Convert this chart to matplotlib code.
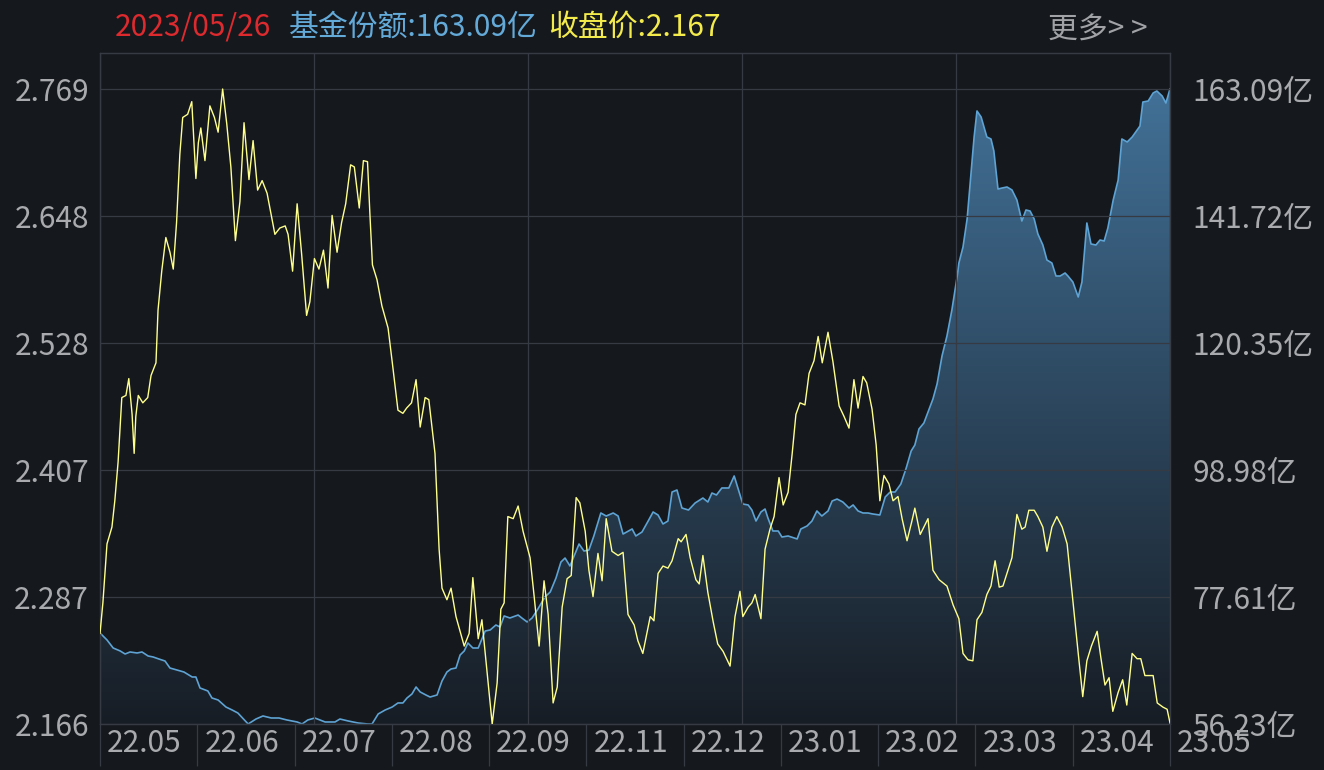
import numpy as np
import matplotlib
matplotlib.use("Agg")
import matplotlib.pyplot as plt
from matplotlib.colors import LinearSegmentedColormap
from matplotlib.transforms import blended_transform_factory

plt.rcParams["font.family"] = ["Noto Sans CJK SC", "DejaVu Sans"]

# closing price (left axis), positions along the trading timeline 0..260
price_t = [0, 0.7, 1.7, 2.9, 3.6, 4.4, 5.3, 6.3, 7.0, 7.8,
           8.3, 8.7, 9.3, 10.4, 11.6, 12.4, 13.6, 14.1, 15.0, 16.0,
           17.0, 17.8, 18.6, 19.4, 20.1, 21.3, 22.3, 23.3, 23.9, 24.5,
           25.5, 26.7, 27.8, 28.7, 29.8, 30.8, 31.8, 32.9, 34.0, 35.0,
           36.2, 37.2, 38.3, 39.4, 40.6, 42.5, 43.7, 45.0, 45.7, 46.8,
           47.9, 49.0, 50.2, 51.0, 52.1, 53.2, 54.3, 55.4, 56.4, 57.6,
           58.7, 59.7, 60.9, 61.8, 63.0, 64.0, 65.0, 65.6, 66.2, 67.3,
           68.5, 70.0, 71.0, 72.4, 73.6, 74.5, 75.7, 76.8, 77.8, 79.0,
           79.9, 81.4, 82.4, 83.1, 84.3, 85.3, 86.5, 88.5, 89.7, 90.6,
           91.9, 92.8, 94.0, 95.3, 96.5, 97.4, 98.2, 99.1, 100.4, 101.6,
           102.8, 104.5, 105.5, 106.7, 107.9, 108.9, 110.1, 111.1, 112.3, 113.5,
           114.5, 115.7, 116.6, 117.9, 118.8, 119.8, 121.0, 122.0, 123.0, 124.4,
           125.9, 127.1, 128.3, 129.8, 130.7, 131.9, 133.7, 134.6, 135.6, 136.8,
           138.0, 139.0, 140.5, 141.2, 142.4, 143.4, 144.8, 145.6, 146.5, 147.7,
           149.0, 150.1, 151.4, 153.1, 154.3, 155.5, 156.2, 157.5, 158.4, 159.2,
           160.6, 161.6, 162.8, 163.8, 165.0, 166.0, 167.2, 168.2, 169.1, 170.1,
           171.3, 172.3, 173.5, 174.5, 175.5, 176.9, 178.1, 179.6, 180.8, 182.0,
           183.2, 184.2, 185.4, 186.3, 187.6, 188.6, 189.5, 190.5, 191.7, 192.7,
           193.9, 194.9, 196.1, 197.3, 198.0, 199.3, 201.2, 202.4, 203.9, 205.8,
           207.3, 208.7, 209.7, 210.9, 212.1, 213.1, 214.3, 215.5, 216.5, 217.5,
           218.5, 219.4, 221.6, 222.8, 224.0, 224.8, 225.7, 227.0, 227.9, 229.1,
           230.1, 231.3, 232.5, 233.8, 235.0, 236.4, 237.7, 238.8, 239.8, 240.9,
           242.3, 243.2, 244.2, 245.2, 246.1, 247.4, 248.5, 249.5, 250.8, 252.0,
           252.9, 253.9, 255.9, 256.9, 258.3, 259.3, 260.0]
price = [2.252, 2.281, 2.337, 2.353, 2.378, 2.415, 2.476, 2.478, 2.494, 2.460,
         2.423, 2.458, 2.478, 2.471, 2.476, 2.497, 2.509, 2.559, 2.596, 2.628,
         2.614, 2.598, 2.642, 2.707, 2.742, 2.745, 2.757, 2.684, 2.718, 2.732,
         2.701, 2.753, 2.742, 2.728, 2.769, 2.736, 2.695, 2.625, 2.662, 2.737,
         2.683, 2.720, 2.673, 2.682, 2.670, 2.631, 2.637, 2.639, 2.631, 2.596,
         2.660, 2.612, 2.554, 2.567, 2.608, 2.598, 2.616, 2.580, 2.649, 2.614,
         2.642, 2.660, 2.697, 2.695, 2.656, 2.701, 2.700, 2.649, 2.602, 2.588,
         2.563, 2.542, 2.510, 2.464, 2.461, 2.466, 2.471, 2.493, 2.448, 2.476,
         2.474, 2.423, 2.332, 2.295, 2.284, 2.295, 2.268, 2.240, 2.252, 2.305,
         2.247, 2.265, 2.217, 2.166, 2.205, 2.275, 2.281, 2.363, 2.361, 2.373,
         2.349, 2.324, 2.287, 2.240, 2.302, 2.270, 2.186, 2.201, 2.277, 2.304,
         2.307, 2.381, 2.376, 2.349, 2.312, 2.287, 2.328, 2.302, 2.361, 2.330,
         2.326, 2.329, 2.270, 2.260, 2.245, 2.233, 2.268, 2.264, 2.309, 2.316,
         2.314, 2.321, 2.342, 2.339, 2.346, 2.324, 2.303, 2.299, 2.326, 2.291,
         2.263, 2.242, 2.235, 2.221, 2.268, 2.292, 2.268, 2.277, 2.281, 2.289,
         2.266, 2.332, 2.351, 2.363, 2.400, 2.374, 2.386, 2.423, 2.460, 2.471,
         2.469, 2.499, 2.511, 2.534, 2.509, 2.538, 2.510, 2.468, 2.458, 2.447,
         2.493, 2.466, 2.496, 2.490, 2.465, 2.431, 2.378, 2.402, 2.394, 2.378,
         2.382, 2.361, 2.340, 2.359, 2.371, 2.346, 2.361, 2.312, 2.303, 2.297,
         2.279, 2.266, 2.233, 2.227, 2.226, 2.265, 2.272, 2.289, 2.297, 2.321,
         2.296, 2.297, 2.324, 2.365, 2.351, 2.353, 2.369, 2.369, 2.363, 2.353,
         2.330, 2.353, 2.363, 2.353, 2.337, 2.283, 2.233, 2.192, 2.226, 2.240,
         2.254, 2.229, 2.203, 2.210, 2.178, 2.196, 2.208, 2.184, 2.233, 2.228,
         2.228, 2.212, 2.212, 2.186, 2.182, 2.180, 2.167]

# fund shares in 亿 (right axis)
share_t = [0, 1.7, 3.2, 4.9, 6.1, 7.3, 9.0, 10.2, 11.7, 12.9,
           14.3, 15.8, 17.0, 18.7, 20.4, 22.4, 23.3, 24.3, 26.2, 27.2,
           28.7, 30.6, 32.1, 33.5, 36.0, 37.9, 39.6, 41.6, 43.5, 45.4,
           47.9, 49.1, 50.5, 52.2, 54.7, 57.1, 58.3, 60.3, 62.7, 65.1,
           66.1, 67.6, 69.3, 71.0, 72.4, 73.6, 74.6, 75.8, 76.8, 77.8,
           79.2, 80.2, 81.9, 83.1, 84.3, 85.3, 86.5, 87.5, 88.5, 89.4,
           90.6, 91.9, 93.6, 94.8, 96.2, 97.2, 98.2, 99.6, 101.6, 102.5,
           103.8, 105.0, 106.4, 108.1, 109.4, 110.8, 112.0, 113.0, 114.2, 116.4,
           117.6, 118.8, 120.0, 121.7, 123.0, 124.7, 125.9, 127.1, 129.3, 130.2,
           131.7, 133.2, 134.4, 135.6, 136.8, 138.0, 139.0, 140.2, 141.4, 143.0,
           144.6, 146.5, 147.7, 148.7, 149.8, 151.1, 152.8, 154.1, 155.0, 156.2,
           157.5, 158.4, 159.4, 160.6, 161.6, 162.3, 163.5, 164.8, 165.7, 167.2,
           169.4, 170.3, 171.8, 173.0, 174.2, 175.4, 176.9, 177.9, 179.1, 180.5,
           182.0, 183.0, 184.2, 185.4, 186.6, 187.8, 189.5, 190.8, 192.0, 193.2,
           194.6, 195.9, 197.1, 198.0, 199.0, 200.2, 201.2, 202.4, 203.4, 204.6,
           205.8, 207.0, 208.3, 208.7, 209.7, 210.7, 211.7, 212.4, 213.1, 214.1,
           214.6, 215.5, 216.5, 217.2, 218.2, 219.2, 220.4, 221.6, 222.8, 224.0,
           225.0, 226.0, 227.0, 227.9, 229.1, 230.1, 231.3, 232.3, 233.3, 234.5,
           235.2, 236.4, 237.7, 238.6, 239.8, 240.8, 242.0, 243.0, 244.0, 244.9,
           246.2, 247.4, 248.3, 249.6, 250.8, 252.7, 253.4, 254.7, 255.9, 256.8,
           258.1, 259.0, 260.0]
share = [71.55, 70.37, 69.02, 68.52, 68.01, 68.35, 68.18, 68.35, 67.67, 67.51,
         67.17, 66.83, 65.65, 65.32, 64.98, 64.14, 64.14, 62.29, 61.79, 60.61,
         60.27, 59.09, 58.59, 58.08, 56.23, 57.07, 57.58, 57.24, 57.24, 56.91,
         56.57, 56.23, 56.91, 57.24, 56.57, 56.57, 57.07, 56.74, 56.40, 56.23,
         56.23, 57.92, 58.59, 59.09, 59.77, 59.77, 60.61, 61.28, 62.46, 61.62,
         61.11, 60.77, 61.11, 63.47, 64.98, 65.49, 65.65, 67.84, 68.52, 69.86,
         69.02, 69.02, 71.88, 72.05, 72.89, 72.56, 74.41, 74.07, 74.57, 74.07,
         73.40, 74.07, 75.58, 77.60, 78.44, 80.80, 83.49, 84.16, 82.82, 86.52,
         85.34, 85.51, 87.87, 91.74, 91.23, 91.74, 91.23, 88.20, 89.05, 87.87,
         88.54, 90.39, 91.91, 91.40, 89.89, 90.39, 95.27, 95.61, 92.58, 92.24,
         93.42, 94.26, 93.59, 95.10, 94.77, 95.95, 95.95, 97.97, 95.95, 93.25,
         93.09, 92.24, 90.39, 91.91, 92.41, 90.90, 88.71, 88.71, 87.70, 87.87,
         87.37, 89.05, 89.55, 90.39, 92.08, 91.23, 92.08, 93.76, 94.09, 93.59,
         92.58, 93.09, 92.08, 91.74, 91.74, 91.57, 91.40, 94.43, 95.27, 95.27,
         96.62, 99.31, 102.17, 103.18, 105.88, 106.89, 108.74, 110.93, 113.45, 118.16,
         121.53, 125.90, 131.62, 133.81, 136.50, 141.21, 149.29, 155.01, 159.39, 158.38,
         157.20, 155.01, 154.68, 152.66, 146.26, 146.43, 146.60, 146.10, 144.41, 140.88,
         142.73, 142.56, 141.21, 138.69, 136.84, 134.31, 133.81, 131.62, 131.62, 132.13,
         131.62, 130.61, 128.09, 130.61, 140.54, 137.01, 136.84, 137.68, 137.51, 139.70,
         144.41, 147.78, 154.68, 154.18, 155.01, 156.86, 160.90, 161.07, 162.42, 162.76,
         161.91, 160.73, 163.09]

price_ticks = [2.166, 2.287, 2.407, 2.528, 2.648, 2.769]
share_ticks = [56.23, 77.61, 98.98, 120.35, 141.72, 163.09]
month_labels = ["22.05", "22.06", "22.07", "22.08", "22.09", "22.11",
                "22.12", "23.01", "23.02", "23.03", "23.04", "23.05"]

BG = "#15181d"
GRID = "#363a42"
TXT = "#a8aaad"
FS = 21.5

W, H = 1324, 770
fig = plt.figure(figsize=(W / 100, H / 100), dpi=100, facecolor=BG)
ax = fig.add_axes([100 / W, 46 / H, 1070 / W, 671 / H])
ax2 = ax.twinx()
ax.set_zorder(ax2.get_zorder() + 1)
ax.patch.set_visible(False)
ax2.patch.set_visible(True)
ax2.patch.set_facecolor(BG)

t_max = 260
price_lo, price_hi = 2.166, 2.8032
share_lo, share_hi = 56.23, 169.15

# fund share: gradient fill clipped under the curve
fill_cmap = LinearSegmentedColormap.from_list("fund_fill", ["#171d25", "#44759d"])
grad = np.linspace(0, 1, 256).reshape(-1, 1)
im = ax2.imshow(grad, extent=[0, t_max, share_lo, share_hi], origin="lower",
                aspect="auto", cmap=fill_cmap, zorder=1)
poly = ax2.fill_between(share_t, share, share_lo, facecolor="none", edgecolor="none")
im.set_clip_path(poly.get_paths()[0], transform=ax2.transData)
ax2.plot(share_t, share, color="#5ea3d3", lw=1.2, zorder=2)

# closing price
ax.plot(price_t, price, color="#ffff8c", lw=1.0, zorder=3)

ax.set_xlim(0, t_max)
ax.set_ylim(price_lo, price_hi)
ax2.set_ylim(share_lo, share_hi)

ax.set_xticks(np.linspace(0, t_max, 6))
ax.set_yticks(price_ticks)
ax.set_yticklabels([f"{v:.3f}" for v in price_ticks])
ax2.set_yticks(share_ticks)
ax2.set_yticklabels([f"{v:.2f}亿" for v in share_ticks])
ax.grid(True, color=GRID, lw=0.9)
ax.tick_params(axis="x", length=0, labelbottom=False)
ax.tick_params(axis="y", length=0, pad=8, labelsize=FS, labelcolor=TXT)
ax2.tick_params(axis="y", length=0, pad=16, labelsize=FS, labelcolor=TXT)
for a in (ax, ax2):
    for s in a.spines.values():
        s.set_color(GRID)
        s.set_linewidth(0.9)

# month strip below the plot
strip = blended_transform_factory(ax.transAxes, fig.transFigure)
n = len(month_labels) - 1
ax.vlines([k / n for k in range(n + 1)], 4 / H, 46 / H, transform=strip,
          colors=GRID, lw=0.9, clip_on=False)
for k, lab in enumerate(month_labels):
    ax.text(k / n + 7 / 1070, 1 - 743 / H, lab, transform=strip, ha="left",
            va="center", fontsize=FS, color=TXT, clip_on=False)

# header line
hy = 1 - 27 / H
fig.text(115 / W, hy, "2023/05/26", color="#dc2a2e", fontsize=FS, va="center")
fig.text(289 / W, hy, "基金份额:163.09亿", color="#64aad9", fontsize=FS, va="center")
fig.text(548 / W, hy, "收盘价:2.167", color="#f3ea4c", fontsize=FS, va="center")
fig.text(1048 / W, 1 - 30 / H, "更多> >", color="#a0a2a5", fontsize=FS, va="center")

fig.savefig("out.png", dpi=100, facecolor=BG)
